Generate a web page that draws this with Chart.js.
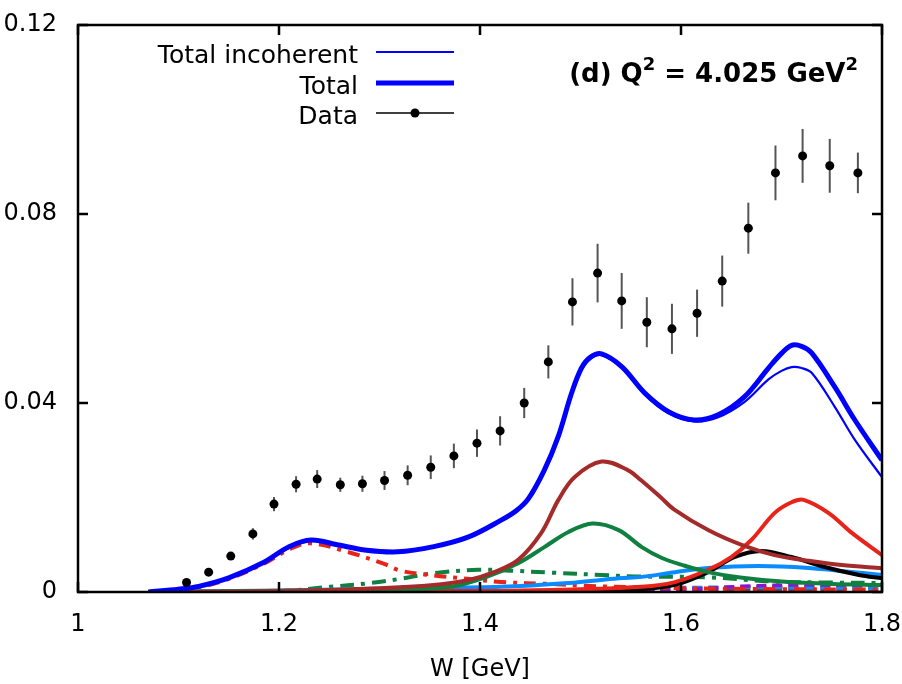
<!DOCTYPE html>
<html>
<head>
<meta charset="utf-8">
<script src="https://cdn.jsdelivr.net/npm/chart.js@4.4.0/dist/chart.umd.min.js"></script>
<style>
  html, body { margin: 0; padding: 0; background: #fff; }
  #wrap { width: 902px; height: 684px; }
</style>
</head>
<body>
<div id="wrap"><canvas id="myChart" width="902" height="684"></canvas></div>
<script>
// measured points with errors
const dataW = [1.108, 1.130, 1.152, 1.174, 1.195, 1.217, 1.238, 1.261, 1.283, 1.305, 1.328, 1.351, 1.374, 1.397, 1.420,
  1.444, 1.468, 1.492, 1.517, 1.541, 1.566, 1.591, 1.616, 1.641, 1.667, 1.694, 1.721, 1.748, 1.776];
const dataY = [0.0020, 0.0042, 0.0076, 0.0123, 0.0186, 0.0228, 0.0239, 0.0227, 0.0229, 0.0236, 0.0247, 0.0264, 0.0288, 0.0315, 0.0341,
  0.0400, 0.0487, 0.0614, 0.0675, 0.0616, 0.0571, 0.0557, 0.0590, 0.0658, 0.0770, 0.0887, 0.0923, 0.0902, 0.0887];
const dataErr = [0.0004, 0.0005, 0.0008, 0.0012, 0.0015, 0.0017, 0.0019, 0.0015, 0.0017, 0.0020, 0.0021, 0.0025, 0.0026, 0.0029, 0.0031,
  0.0032, 0.0035, 0.0050, 0.0062, 0.0059, 0.0053, 0.0053, 0.0050, 0.0054, 0.0054, 0.0058, 0.0057, 0.0057, 0.0043];

// model curves
const totalW = [1.07, 1.10, 1.12, 1.15, 1.185, 1.21, 1.232, 1.258, 1.285, 1.318, 1.354, 1.388, 1.421, 1.436, 1.448, 1.464, 1.478,
  1.491, 1.501, 1.510, 1.521, 1.541, 1.564, 1.588, 1.613, 1.637, 1.663, 1.687, 1.700, 1.710, 1.720, 1.730, 1.753, 1.773, 1.800];
const totalY = [0.0000, 0.0006, 0.0012, 0.0030, 0.0063, 0.0096, 0.0110, 0.0100, 0.0089, 0.0085, 0.0096, 0.0116, 0.0152, 0.0172, 0.0197, 0.0258, 0.0330,
  0.0420, 0.0474, 0.0497, 0.0504, 0.0477, 0.0421, 0.0381, 0.0364, 0.0375, 0.0413, 0.0474, 0.0505, 0.0522, 0.0520, 0.0506, 0.0434, 0.0364, 0.0279];
const incohY = [0.0000, 0.0006, 0.0012, 0.0030, 0.0063, 0.0096, 0.0110, 0.0100, 0.0089, 0.0085, 0.0096, 0.0116, 0.0151, 0.0171, 0.0196, 0.0256, 0.0328,
  0.0417, 0.0471, 0.0494, 0.0501, 0.0474, 0.0418, 0.0378, 0.0361, 0.0370, 0.0402, 0.0450, 0.0468, 0.0476, 0.0474, 0.0464, 0.0392, 0.0322, 0.0243];

const brownW = [1.07, 1.20, 1.30, 1.354, 1.388, 1.414, 1.438, 1.461, 1.478, 1.494, 1.521, 1.547, 1.560, 1.580, 1.593, 1.627, 1.661, 1.693, 1.727, 1.760, 1.800];
const brownY = [0.0000, 0.0002, 0.0008, 0.0015, 0.0025, 0.0042, 0.0068, 0.0125, 0.0195, 0.0243, 0.0276, 0.0258, 0.0237, 0.0200, 0.0175, 0.0131, 0.0099, 0.0078, 0.0066, 0.0057, 0.0050];

const greenW = [1.07, 1.30, 1.371, 1.404, 1.438, 1.464, 1.488, 1.512, 1.538, 1.561, 1.581, 1.600, 1.627, 1.661, 1.700, 1.750, 1.800];
const greenY = [0.0000, 0.0005, 0.0011, 0.0030, 0.0061, 0.0095, 0.0127, 0.0145, 0.0131, 0.0095, 0.0072, 0.0058, 0.0042, 0.0030, 0.0022, 0.0017, 0.0015];

const redW = [1.07, 1.40, 1.50, 1.561, 1.594, 1.627, 1.650, 1.670, 1.693, 1.710, 1.722, 1.747, 1.770, 1.800];
const redY = [0.0000, 0.0002, 0.0006, 0.0011, 0.0021, 0.0047, 0.0074, 0.0110, 0.0167, 0.0190, 0.0195, 0.0167, 0.0125, 0.0078];

const blackW = [1.07, 1.50, 1.56, 1.594, 1.627, 1.653, 1.680, 1.710, 1.743, 1.777, 1.800];
const blackY = [0.0000, 0.0002, 0.0006, 0.0015, 0.0042, 0.0074, 0.0087, 0.0074, 0.0053, 0.0036, 0.0029];

const skyW = [1.07, 1.20, 1.321, 1.421, 1.488, 1.538, 1.561, 1.594, 1.627, 1.677, 1.727, 1.767, 1.800];
const skyY = [0.0000, 0.0003, 0.0008, 0.0011, 0.0019, 0.0029, 0.0032, 0.0042, 0.0051, 0.0055, 0.0051, 0.0043, 0.0036];

const redDdW = [1.07, 1.12, 1.15, 1.185, 1.21, 1.231, 1.268, 1.304, 1.321, 1.354, 1.388, 1.421, 1.471, 1.504, 1.60, 1.70, 1.80];
const redDdY = [0.0000, 0.0010, 0.0028, 0.0060, 0.0090, 0.0103, 0.0085, 0.0060, 0.0045, 0.0035, 0.0028, 0.0021, 0.0017, 0.0013, 0.0008, 0.0006, 0.0005];

const greenDdW = [1.07, 1.20, 1.251, 1.291, 1.321, 1.354, 1.398, 1.431, 1.471, 1.521, 1.554, 1.627, 1.693, 1.750, 1.800];
const greenDdY = [0.0000, 0.0002, 0.0011, 0.0019, 0.0028, 0.0040, 0.0047, 0.0045, 0.0041, 0.0036, 0.0033, 0.0031, 0.0022, 0.0020, 0.0019];

const purpleW = [1.07, 1.40, 1.55, 1.62, 1.66, 1.72, 1.80];
const purpleY = [0.0000, 0.0002, 0.0004, 0.0007, 0.0012, 0.0015, 0.0014];

const skyDashW = [1.07, 1.45, 1.55, 1.65, 1.72, 1.80];
const skyDashY = [0.0000, 0.0003, 0.0008, 0.0010, 0.0009, 0.0008];

const redDashW = [1.07, 1.50, 1.60, 1.70, 1.80];
const redDashY = [0.0000, 0.0003, 0.0008, 0.0010, 0.0008];

const brownDashW = [1.07, 1.30, 1.55, 1.80];
const brownDashY = [0.0000, 0.0002, 0.0003, 0.0003];

const xTicks = [1, 1.2, 1.4, 1.6, 1.8];
const yTicks = [0, 0.04, 0.08, 0.12];

const FONT = '"DejaVu Sans", sans-serif';

function pts(xs, ys) {
  return xs.map((x, i) => ({ x: x, y: ys[i] }));
}

function curve(xs, ys, color, width, dash) {
  return {
    data: pts(xs, ys),
    showLine: true,
    borderColor: color,
    borderWidth: width,
    borderDash: dash || [],
    pointRadius: 0,
    tension: 0.35,
    fill: false,
  };
}

const datasets = [
  {
    label: 'Data',
    data: pts(dataW, dataY),
    showLine: false,
    pointRadius: 4.5,
    pointBackgroundColor: '#000',
    pointBorderColor: '#000',
    pointBorderWidth: 0,
  },
  Object.assign(curve(totalW, totalY, '#0000ff', 5), { label: 'Total' }),
  Object.assign(curve(totalW, incohY, '#0000ff', 2.2), { label: 'Total incoherent' }),
  curve(brownW, brownY, '#a52a2a', 4),
  curve(greenW, greenY, '#0f8040', 4),
  curve(redW, redY, '#e8241a', 4),
  curve(blackW, blackY, '#000000', 4),
  curve(skyW, skyY, '#0a8cff', 4),
  curve(redDdW, redDdY, '#e8241a', 4, [12, 7, 4, 7]),
  curve(greenDdW, greenDdY, '#0f8040', 4, [14, 7, 4, 7]),
  curve(purpleW, purpleY, '#8a14d2', 3.5, [10, 6]),
  curve(skyDashW, skyDashY, '#0a8cff', 3.5, [10, 6]),
  curve(redDashW, redDashY, '#e8241a', 3.5, [10, 6]),
  curve(brownDashW, brownDashY, '#a52a2a', 3, [10, 6]),
];

// error bars under the data points
const errorBars = {
  id: 'errorBars',
  beforeDatasetDraw(chart, args) {
    if (args.index !== 0) return;
    const { ctx, scales: { x, y } } = chart;
    ctx.save();
    ctx.strokeStyle = '#555';
    ctx.lineWidth = 2;
    for (let i = 0; i < dataW.length; i++) {
      const px = x.getPixelForValue(dataW[i]);
      ctx.beginPath();
      ctx.moveTo(px, y.getPixelForValue(dataY[i] - dataErr[i]));
      ctx.lineTo(px, y.getPixelForValue(dataY[i] + dataErr[i]));
      ctx.stroke();
    }
    ctx.restore();
  }
};

// gnuplot-like frame, mirrored inner ticks, key and label
const frame = {
  id: 'frame',
  afterDraw(chart) {
    const { ctx, chartArea: a, scales: { x, y } } = chart;
    ctx.save();
    ctx.strokeStyle = '#000';
    ctx.lineWidth = 2.5;
    ctx.strokeRect(a.left, a.top, a.right - a.left, a.bottom - a.top);
    ctx.beginPath();
    xTicks.forEach(v => {
      const px = x.getPixelForValue(v);
      ctx.moveTo(px, a.bottom); ctx.lineTo(px, a.bottom - 10);
      ctx.moveTo(px, a.top); ctx.lineTo(px, a.top + 10);
    });
    yTicks.forEach(v => {
      const py = y.getPixelForValue(v);
      ctx.moveTo(a.left, py); ctx.lineTo(a.left + 10, py);
      ctx.moveTo(a.right, py); ctx.lineTo(a.right - 10, py);
    });
    ctx.stroke();

    // key
    ctx.font = '25px ' + FONT;
    ctx.fillStyle = '#000';
    ctx.textAlign = 'right';
    ctx.textBaseline = 'alphabetic';
    const rows = [
      { label: 'Total incoherent', y: 52, color: '#0000ff', width: 2.2 },
      { label: 'Total', y: 83, color: '#0000ff', width: 5 },
      { label: 'Data', y: 113, color: '#000', width: 1.5, dot: true },
    ];
    rows.forEach(r => {
      ctx.fillText(r.label, 358, r.y + 11);
      ctx.strokeStyle = r.color;
      ctx.lineWidth = r.width;
      ctx.beginPath();
      ctx.moveTo(376, r.y);
      ctx.lineTo(454, r.y);
      ctx.stroke();
      if (r.dot) {
        ctx.beginPath();
        ctx.arc(415, r.y, 4.5, 0, Math.PI * 2);
        ctx.fill();
      }
    });

    // panel label, right aligned
    const parts = [
      { t: '(d) Q', f: 'bold 26px ' + FONT, dy: 0 },
      { t: '2', f: 'bold 18px ' + FONT, dy: -12 },
      { t: ' = 4.025 GeV', f: 'bold 26px ' + FONT, dy: 0 },
      { t: '2', f: 'bold 18px ' + FONT, dy: -12 },
    ];
    let total = 0;
    parts.forEach(p => { ctx.font = p.f; p.w = ctx.measureText(p.t).width; total += p.w; });
    let cx = 858 - total;
    ctx.textAlign = 'left';
    parts.forEach(p => {
      ctx.font = p.f;
      ctx.fillText(p.t, cx, 82 + p.dy);
      cx += p.w;
    });
    ctx.restore();
  }
};

const config = {
  type: 'scatter',
  data: { datasets: datasets },
  options: {
    responsive: false,
    animation: false,
    layout: { padding: { left: 0, right: 20, top: 25, bottom: 0 } },
    plugins: {
      legend: { display: false },
      tooltip: { enabled: false },
    },
    scales: {
      x: {
        type: 'linear',
        min: 1,
        max: 1.8,
        border: { display: false },
        grid: { display: false, drawTicks: false },
        ticks: {
          stepSize: 0.2,
          padding: 18,
          color: '#000',
          font: { family: FONT, size: 24 },
          callback: v => String(Number(v.toFixed(1))),
        },
        title: {
          display: true,
          text: 'W [GeV]',
          color: '#000',
          font: { family: FONT, size: 24 },
          padding: { top: 0, bottom: 0 },
        },
        afterFit: s => { s.height = 92; s.paddingLeft = 0; s.paddingRight = 0; },
      },
      y: {
        min: 0,
        max: 0.12,
        border: { display: false },
        grid: { display: false, drawTicks: false },
        ticks: {
          stepSize: 0.04,
          padding: 21,
          color: '#000',
          font: { family: FONT, size: 24 },
          callback: v => (v === 0 ? '0' : v.toFixed(2)),
        },
        afterFit: s => { s.width = 78; s.paddingTop = 0; s.paddingBottom = 0; },
      },
    },
  },
  plugins: [errorBars, frame],
};

const ctx = document.getElementById('myChart').getContext('2d');
const myChart = new Chart(ctx, config);
</script>
</body>
</html>
